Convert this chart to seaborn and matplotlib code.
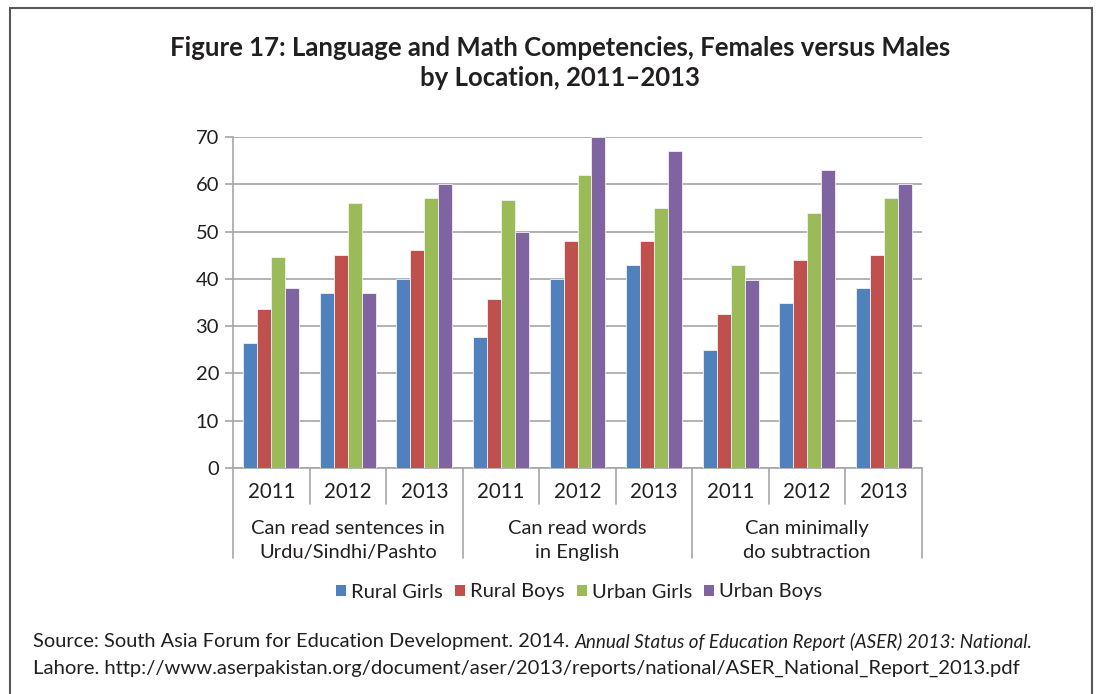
import matplotlib
matplotlib.use("Agg")
import matplotlib.pyplot as plt
import matplotlib.patches as mpatches
import matplotlib.transforms as mtransforms
import seaborn as sns
import pandas as pd

# ---- data -------------------------------------------------------------
skills = ["Can read sentences in\nUrdu/Sindhi/Pashto",
          "Can read words\nin English",
          "Can minimally\ndo subtraction"]
years = ["2011", "2012", "2013"]
series = ["Rural Girls", "Rural Boys", "Urban Girls", "Urban Boys"]

rural_girls = [26.4, 37, 40, 27.8, 40, 43, 25, 35, 38]
rural_boys = [33.7, 45, 46, 35.7, 48, 48, 32.5, 44, 45]
urban_girls = [44.6, 56, 57, 56.7, 62, 55, 43, 54, 57]
urban_boys = [38, 37, 60, 50, 70, 67, 39.7, 63, 60]

y_ticks = [0, 10, 20, 30, 40, 50, 60, 70]

title = ("Figure 17: Language and Math Competencies, Females versus Males\n"
         "by Location, 2011\u20132013")
source_1 = "Source: South Asia Forum for Education Development. 2014. "
source_1_it = "Annual Status of Education Report (ASER) 2013: National."
source_2 = ("Lahore. http://www.aserpakistan.org/document/aser/2013/reports/"
            "national/ASER_National_Report_2013.pdf")

colors = ["#4F81BD", "#C0504D", "#9BBB59", "#8064A2"]

# ---- long-form table --------------------------------------------------
slots = [f"{s.splitlines()[0]} {y}" for s in skills for y in years]
values = [rural_girls, rural_boys, urban_girls, urban_boys]
rows = []
for name, vals in zip(series, values):
    for slot, v in zip(slots, vals):
        rows.append({"slot": slot, "series": name, "value": v})
df = pd.DataFrame(rows)

# ---- figure -----------------------------------------------------------
sns.set_theme(style="white")
plt.rcParams["font.family"] = ["Lato", "DejaVu Sans"]
text_color = "#231F20"
grid_color = "#A6A6A6"

fig = plt.figure(figsize=(11.04, 6.94), dpi=100)
ax = fig.add_axes([233 / 1104, 1 - 468 / 694, (922 - 233) / 1104, (468 - 137) / 694])

sns.barplot(data=df, x="slot", y="value", hue="series", order=slots,
            hue_order=series, palette=colors, saturation=1, width=0.73, ax=ax,
            edgecolor="#F2F2F2", linewidth=0.6, legend=False, zorder=3)

ax.set_xlim(-0.5, len(slots) - 0.5)
ax.set_ylim(0, 70)
ax.set_yticks(y_ticks)
ax.set_yticklabels([str(t) for t in y_ticks], fontsize=14.5, color=text_color)
ax.tick_params(axis="y", length=6, width=1.2, color=grid_color, pad=4, left=True)
ax.yaxis.grid(True, color=grid_color, linewidth=1.2, zorder=0)
ax.set_axisbelow(True)
ax.set_xlabel("")
ax.set_ylabel("")

for side in ["top", "right"]:
    ax.spines[side].set_visible(False)
for side in ["left", "bottom"]:
    ax.spines[side].set_color(grid_color)
    ax.spines[side].set_linewidth(1.2)

# year labels on the first row of the category axis
ax.set_xticks(range(len(slots)))
ax.set_xticklabels(years * len(skills), fontsize=14.8, color=text_color)
ax.tick_params(axis="x", length=0, pad=10)

# separators between years and between skill groups
trans = mtransforms.blended_transform_factory(ax.transData, ax.transAxes)
for i in range(len(slots) + 1):
    x = i - 0.5
    depth = -0.272 if i % 3 == 0 else -0.108
    ax.plot([x, x], [0, depth], color=grid_color, lw=1.2, transform=trans,
            clip_on=False, zorder=1)

for g, label in enumerate(skills):
    ax.text(3 * g + 1, -0.218, label, transform=trans, ha="center", va="center",
            fontsize=14.5, color=text_color, linespacing=1.5)

# legend
handles = [mpatches.Patch(facecolor=c, edgecolor="none", label=s)
           for s, c in zip(series, colors)]
fig.legend(handles=handles, loc="center", ncol=4,
           bbox_to_anchor=(579 / 1104, 1 - 592 / 694), frameon=False,
           fontsize=14.5, handlelength=0.5, handleheight=0.5,
           handletextpad=0.25, columnspacing=0.6, labelcolor=text_color)

# title
fig.text(560 / 1104, 1 - 63 / 694, title, ha="center", va="center",
         fontsize=18.5, fontweight="bold", color=text_color, linespacing=1.25)

# source note
t1 = fig.text(33 / 1104, 1 - 642 / 694, source_1, ha="left", va="center",
              fontsize=14.4, color=text_color)
fig.canvas.draw()
bb = t1.get_window_extent()
fig.text(bb.x1 / 1104, 1 - 642 / 694, source_1_it, ha="left", va="center",
         fontsize=13.6, style="italic", color=text_color)
fig.text(33 / 1104, 1 - 668 / 694, source_2, ha="left", va="center",
         fontsize=14.6, color=text_color)

# frame around the exhibit
frame = mpatches.Rectangle((10 / 1104, -0.05), (1092 - 10) / 1104, 1 - 8 / 694 + 0.05,
                           transform=fig.transFigure, fill=False,
                           edgecolor="#58595B", linewidth=1.5)
fig.patches.append(frame)

fig.savefig("out.png", dpi=100, facecolor="white")
